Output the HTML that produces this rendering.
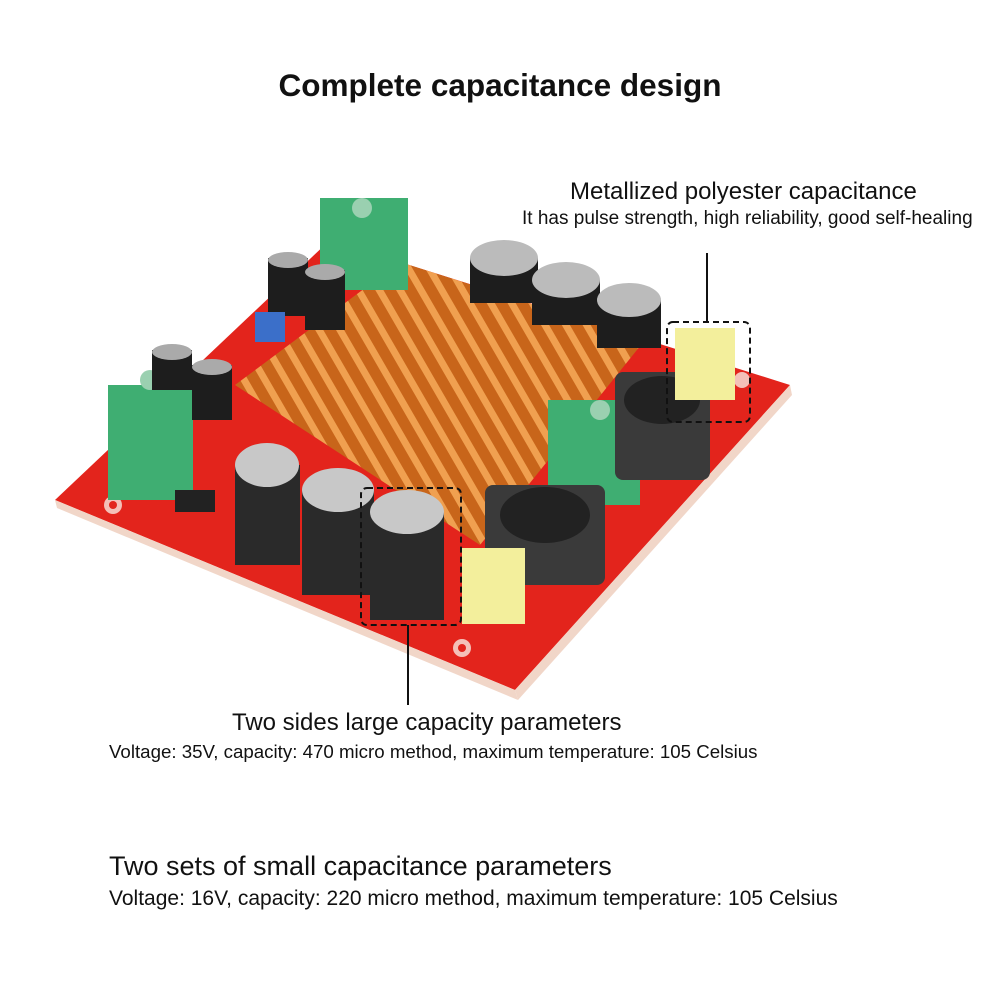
<!DOCTYPE html>
<html><head><meta charset="utf-8"><style>
html,body{margin:0;padding:0;background:#fff;}
body{width:1000px;height:1000px;position:relative;overflow:hidden;font-family:"Liberation Sans",sans-serif;color:#111;}
.t{position:absolute;white-space:nowrap;}
</style></head><body>
<svg width="1000" height="1000" style="position:absolute;left:0;top:0">
<defs>
<pattern id="fins" width="18" height="18" patternUnits="userSpaceOnUse" patternTransform="rotate(-30)">
<rect width="18" height="18" fill="#c8651a"/>
<rect width="7" height="18" fill="#f0a050"/>
</pattern>
</defs>
<polygon points="55,500 330,240 790,385 515,690" fill="#e3241c"/>
<polygon points="515,690 790,385 792,395 518,700" fill="#f1d6c8"/>
<polygon points="55,500 515,690 518,700 57,508" fill="#f1d6c8"/>
<polygon points="235,385 400,262 645,340 480,545" fill="url(#fins)"/>
<circle cx="113" cy="505" r="9" fill="#f4c0b8"/><circle cx="113" cy="505" r="4" fill="#e3241c"/>
<circle cx="462" cy="648" r="9" fill="#f4c0b8"/><circle cx="462" cy="648" r="4" fill="#e3241c"/>
<circle cx="742" cy="380" r="8" fill="#f4c0b8"/>
<rect x="108" y="385" width="85" height="115" fill="#3fae72"/>
<rect x="320" y="198" width="88" height="92" fill="#3fae72"/>
<rect x="548" y="400" width="92" height="105" fill="#3fae72"/>
<circle cx="150" cy="380" r="10" fill="#9ad0b0"/><circle cx="362" cy="208" r="10" fill="#9ad0b0"/><circle cx="600" cy="410" r="10" fill="#9ad0b0"/>
<rect x="485" y="485" width="120" height="100" rx="8" fill="#3a3a3a"/>
<ellipse cx="545" cy="515" rx="45" ry="28" fill="#222"/>
<rect x="615" y="372" width="95" height="108" rx="8" fill="#3a3a3a"/>
<ellipse cx="662" cy="400" rx="38" ry="24" fill="#222"/>
<rect x="268" y="258" width="40" height="58" fill="#1d1d1d"/><ellipse cx="288" cy="260" rx="20" ry="8" fill="#aaa"/>
<rect x="305" y="270" width="40" height="60" fill="#1d1d1d"/><ellipse cx="325" cy="272" rx="20" ry="8" fill="#aaa"/>
<rect x="152" y="350" width="40" height="40" fill="#1d1d1d"/><ellipse cx="172" cy="352" rx="20" ry="8" fill="#aaa"/>
<rect x="192" y="365" width="40" height="55" fill="#1d1d1d"/><ellipse cx="212" cy="367" rx="20" ry="8" fill="#aaa"/>
<rect x="255" y="312" width="30" height="30" fill="#3b6fc9"/>
<rect x="470" y="258" width="68" height="45" fill="#1d1d1d"/><ellipse cx="504" cy="258" rx="34" ry="18" fill="#bbb"/>
<rect x="532" y="280" width="68" height="45" fill="#1d1d1d"/><ellipse cx="566" cy="280" rx="34" ry="18" fill="#bbb"/>
<rect x="597" y="300" width="64" height="48" fill="#1d1d1d"/><ellipse cx="629" cy="300" rx="32" ry="17" fill="#bbb"/>
<rect x="235" y="465" width="65" height="100" fill="#2a2a2a"/><ellipse cx="267" cy="465" rx="32" ry="22" fill="#c8c8c8"/>
<rect x="302" y="490" width="72" height="105" fill="#2a2a2a"/><ellipse cx="338" cy="490" rx="36" ry="22" fill="#c8c8c8"/>
<rect x="370" y="512" width="74" height="108" fill="#2a2a2a"/><ellipse cx="407" cy="512" rx="37" ry="22" fill="#c8c8c8"/>
<rect x="462" y="548" width="63" height="76" fill="#f3ef9c"/>
<rect x="675" y="328" width="60" height="72" fill="#f3ef9c"/>
<rect x="175" y="490" width="40" height="22" fill="#222"/>
<rect x="667" y="322" width="83" height="100" rx="6" fill="none" stroke="#111" stroke-width="2" stroke-dasharray="6,4"/>
<rect x="361" y="488" width="100" height="137" rx="6" fill="none" stroke="#111" stroke-width="2" stroke-dasharray="6,4"/>
<line x1="707" y1="253" x2="707" y2="322" stroke="#111" stroke-width="2"/>
<line x1="408" y1="625" x2="408" y2="705" stroke="#111" stroke-width="2"/>
</svg>
<div class="t" style="left:0;width:1000px;text-align:center;top:67px;font-size:31.5px;font-weight:bold;">Complete capacitance design</div>
<div class="t" style="left:570px;top:178px;font-size:24px;">Metallized polyester capacitance</div>
<div class="t" style="left:522px;top:208px;font-size:19px;">It has pulse strength, high reliability, good self-healing</div>
<div class="t" style="left:232px;top:709px;font-size:24px;">Two sides large capacity parameters</div>
<div class="t" style="left:109px;top:741px;font-size:18.7px;">Voltage: 35V, capacity: 470 micro method, maximum temperature: 105 Celsius</div>
<div class="t" style="left:109px;top:851px;font-size:27px;">Two sets of small capacitance parameters</div>
<div class="t" style="left:109px;top:887px;font-size:21px;">Voltage: 16V, capacity: 220 micro method, maximum temperature: 105 Celsius</div>
</body></html>
